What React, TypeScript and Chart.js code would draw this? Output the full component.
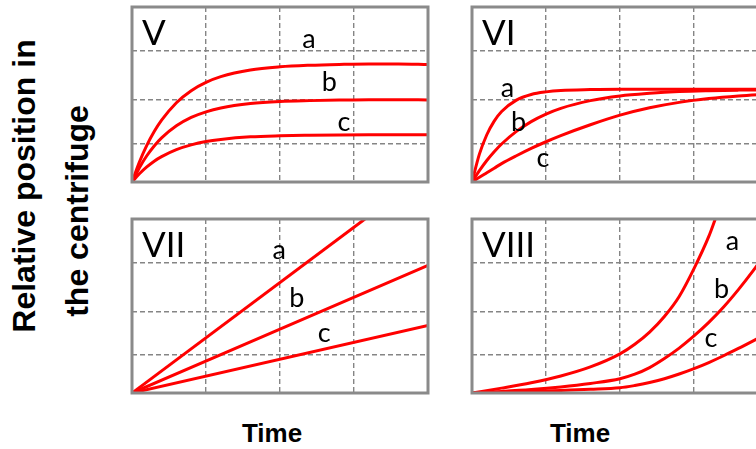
import React, { useEffect, useRef } from "react";
import { Chart, registerables } from "chart.js";

Chart.register(...registerables);

// Time samples, as percent of each panel's time span
const T_FINE = [0, 2.5, 5, 7.5, 10, 15, 20, 25, 30, 40, 50, 60, 70, 80, 90, 100];

// Panel V
const V_A = [0, 11.4, 20.9, 28.8, 35.3, 45.3, 52.2, 56.9, 60.2, 64.0, 65.8, 66.7, 67.2, 67.5, 67.5, 67.2];
const V_B = [0, 8.2, 15.0, 20.6, 25.2, 32.1, 36.9, 40.1, 42.3, 44.8, 46.0, 46.5, 46.8, 47.0, 47.0, 46.9];
const V_C = [0, 4.7, 8.6, 11.9, 14.5, 18.5, 21.2, 23.1, 24.3, 25.8, 26.4, 26.7, 26.9, 27.0, 27.0, 27.0];

// Panel VI
const VI_A = [0, 15.9, 27.0, 34.8, 40.3, 46.8, 50.0, 51.5, 52.3, 52.8, 53.0, 53.0, 53.0, 53.0, 53.0, 53.0];
const VI_B = [0, 6.5, 12.3, 17.3, 21.7, 28.9, 34.5, 38.8, 42.1, 46.5, 49.2, 50.7, 51.7, 52.2, 52.5, 52.7];
const VI_C = [0, 2.7, 5.3, 7.9, 10.5, 15.0, 19.2, 23.0, 26.5, 32.7, 38.2, 42.4, 45.5, 47.7, 49.2, 50.2];

// Panel VII (straight lines from the origin)
const VII_T_A = [0, 78.7];
const VII_A = [0, 100];
const VII_T = [0, 100];
const VII_B = [0, 73.3];
const VII_C = [0, 38.8];

// Panel VIII
const VIII_T_A = [0, 10, 20, 30, 40, 50, 55, 60, 65, 70, 75, 80, 82.2];
const VIII_A = [0, 2.8, 5.9, 9.8, 15.0, 22.5, 28.0, 35.0, 44.0, 55.5, 71.5, 90.0, 100];
const VIII_T = [0, 10, 20, 30, 40, 50, 55, 60, 65, 70, 75, 80, 85, 90, 95, 100];
const VIII_B = [0, 0.9, 2.0, 3.5, 5.5, 8.2, 10.8, 14.6, 19.8, 25.8, 32.8, 40.6, 49.4, 59.4, 70.3, 82.0];
const VIII_C = [0, 0.4, 0.9, 1.5, 2.1, 3.0, 4.3, 6.0, 8.2, 10.9, 14.0, 17.5, 21.4, 25.6, 30.0, 34.5];

const SERIES_NAMES = ["a", "b", "c"];
const GRID_TIME = [25, 50, 75];
const GRID_POS = [22, 47, 75];

const Y_TITLE = ["Relative position in", "the centrifuge"];
const X_TITLE = "Time";

const RED = "#ff0000";
const FRAME = "#8a8a8a";
const GRID = "#858585";
const PAD = 6;

const pts = (xs: number[], ys: number[]) => xs.map((x, i) => ({ x, y: ys[i] }));

type PanelSpec = {
  name: string;
  left: number;
  top: number;
  width: number;
  height: number;
  curves: { x: number; y: number }[][];
  tags: [number, number][];
};

const PANELS: PanelSpec[] = [
  {
    name: "V",
    left: 132, top: 7, width: 296, height: 175,
    curves: [pts(T_FINE, V_A), pts(T_FINE, V_B), pts(T_FINE, V_C)],
    tags: [[59.8, 76.6], [66.7, 52.0], [71.6, 29.1]],
  },
  {
    name: "VI",
    left: 472, top: 7, width: 296, height: 175,
    curves: [pts(T_FINE, VI_A), pts(T_FINE, VI_B), pts(T_FINE, VI_C)],
    tags: [[12.0, 48.6], [15.7, 29.1], [24.0, 8.6]],
  },
  {
    name: "VII",
    left: 132, top: 219, width: 296, height: 174,
    curves: [pts(VII_T_A, VII_A), pts(VII_T, VII_B), pts(VII_T, VII_C)],
    tags: [[49.7, 77.0], [55.7, 49.4], [64.9, 29.3]],
  },
  {
    name: "VIII",
    left: 472, top: 219, width: 296, height: 174,
    curves: [pts(VIII_T_A, VIII_A), pts(VIII_T, VIII_B), pts(VIII_T, VIII_C)],
    tags: [[88.0, 82.2], [84.3, 54.6], [80.7, 26.4]],
  },
];

// Frame, roman-numeral title and curve letters for each panel
const panelDecor = {
  id: "panelDecor",
  afterDatasetsDraw(chart: any, _args: any, opts: any) {
    const { ctx, chartArea: a, scales } = chart;
    ctx.save();
    ctx.strokeStyle = FRAME;
    ctx.lineWidth = 3;
    ctx.strokeRect(a.left, a.top, a.right - a.left, a.bottom - a.top);
    ctx.fillStyle = "#000";
    ctx.textBaseline = "alphabetic";
    ctx.textAlign = "left";
    ctx.font = "35px Lato";
    ctx.fillText(opts.title, a.left + 10, a.top + 38);
    ctx.font = "27px Lato";
    ctx.textAlign = "center";
    (opts.tags as [number, number][]).forEach(([x, y], i) => {
      ctx.fillText(SERIES_NAMES[i], scales.x.getPixelForValue(x), scales.y.getPixelForValue(y));
    });
    ctx.restore();
  },
};

function Panel({ spec }: { spec: PanelSpec }) {
  const ref = useRef<HTMLCanvasElement>(null);
  useEffect(() => {
    if (!ref.current) return;
    const chart = new Chart(ref.current, {
      type: "line",
      data: {
        datasets: spec.curves.map((c, i) => ({
          label: SERIES_NAMES[i],
          data: c,
          borderColor: RED,
          borderWidth: 3,
          pointRadius: 0,
          fill: false,
          cubicInterpolationMode: "monotone" as const,
        })),
      },
      options: {
        animation: false,
        responsive: false,
        maintainAspectRatio: false,
        layout: { padding: PAD },
        plugins: {
          legend: { display: false },
          tooltip: { enabled: false },
          panelDecor: { title: spec.name, tags: spec.tags },
        } as any,
        scales: {
          x: {
            type: "linear",
            min: 0,
            max: 100,
            ticks: { display: false },
            grid: { color: GRID, lineWidth: 1.4, drawTicks: false },
            border: { display: false, dash: [5, 3] },
            afterBuildTicks: (s: any) => {
              s.ticks = GRID_TIME.map((v) => ({ value: v }));
            },
          },
          y: {
            type: "linear",
            min: 0,
            max: 100,
            ticks: { display: false },
            grid: { color: GRID, lineWidth: 1.4, drawTicks: false },
            border: { display: false, dash: [5, 3] },
            afterBuildTicks: (s: any) => {
              s.ticks = GRID_POS.map((v) => ({ value: v }));
            },
          },
        },
      },
      plugins: [panelDecor],
    });
    return () => chart.destroy();
  }, [spec]);

  const w = spec.width + PAD * 2;
  const h = spec.height + PAD * 2;
  return (
    <canvas
      ref={ref}
      width={w}
      height={h}
      style={{ position: "absolute", left: spec.left - PAD, top: spec.top - PAD, width: w, height: h }}
    />
  );
}

const boldSans = '"Liberation Sans", Arial, Helvetica, sans-serif';

export default function App() {
  return (
    <div
      style={{
        position: "absolute",
        left: 0,
        top: 0,
        width: 756,
        height: 449,
        overflow: "hidden",
        background: "#fff",
      }}
    >
      {PANELS.map((p) => (
        <Panel key={p.name} spec={p} />
      ))}
      {Y_TITLE.map((line, i) => (
        <div
          key={line}
          style={{
            position: "absolute",
            left: i === 0 ? 23.8 : 77.2,
            top: i === 0 ? 186 : 211,
            transform: "translate(-50%, -50%) rotate(-90deg)",
            whiteSpace: "nowrap",
            font: `bold 32px ${boldSans}`,
            lineHeight: "32px",
            color: "#000",
          }}
        >
          {line}
        </div>
      ))}
      {[272, 580].map((cx) => (
        <div
          key={cx}
          style={{
            position: "absolute",
            left: cx,
            top: 420,
            transform: "translateX(-50%)",
            whiteSpace: "nowrap",
            font: `bold 26px ${boldSans}`,
            lineHeight: "26px",
            color: "#000",
          }}
        >
          {X_TITLE}
        </div>
      ))}
    </div>
  );
}
